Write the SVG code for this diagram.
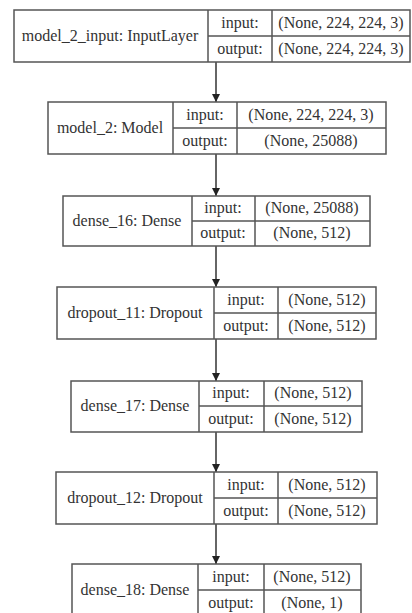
<svg xmlns="http://www.w3.org/2000/svg" width="412" height="613" viewBox="0 0 412 613">
<defs>
<style>
rect.b{fill:#fff;stroke:#555;stroke-width:1.5}
line.d{stroke:#555;stroke-width:1.5}
text{font-size:16px;fill:#333;text-anchor:middle}
.e line{stroke:#333;stroke-width:1.5}
</style>
<marker id="ah" viewBox="0 0 8 10" refX="8" refY="5" markerWidth="8" markerHeight="10" markerUnits="userSpaceOnUse" orient="auto">
<path d="M0,1 L8,5 L0,9 z" fill="#222"/>
</marker>
</defs>
<rect width="412" height="613" fill="#fff"/>
<g class="e" id="connectors">
<line x1="216" y1="62" x2="216" y2="102" marker-end="url(#ah)"/>
<line x1="216" y1="154" x2="216" y2="196" marker-end="url(#ah)"/>
<line x1="216" y1="246" x2="216" y2="287" marker-end="url(#ah)"/>
<line x1="216" y1="339" x2="216" y2="381" marker-end="url(#ah)"/>
<line x1="216" y1="432" x2="216" y2="472" marker-end="url(#ah)"/>
<line x1="216" y1="524" x2="216" y2="564" marker-end="url(#ah)"/>
</g>
<g font-family="'Liberation Serif', 'DejaVu Serif', serif">
<g id="node1">
<rect class="b" x="14" y="10" width="396" height="52"/>
<line class="d" x1="208" y1="10" x2="208" y2="62"/><line class="d" x1="272" y1="10" x2="272" y2="62"/><line class="d" x1="208" y1="36" x2="410" y2="36"/>
<text x="110" y="41">model_2_input: InputLayer</text>
<text x="240" y="28">input:</text><text x="240" y="54">output:</text>
<text x="341" y="28">(None, 224, 224, 3)</text><text x="341" y="54">(None, 224, 224, 3)</text>
</g>
<g id="node2">
<rect class="b" x="48" y="102" width="338" height="52"/>
<line class="d" x1="173" y1="102" x2="173" y2="154"/><line class="d" x1="237" y1="102" x2="237" y2="154"/><line class="d" x1="173" y1="128" x2="386" y2="128"/>
<text x="110" y="133">model_2: Model</text>
<text x="205" y="120">input:</text><text x="205" y="146">output:</text>
<text x="311" y="120">(None, 224, 224, 3)</text><text x="311" y="146">(None, 25088)</text>
</g>
<g id="node3">
<rect class="b" x="63" y="196" width="307" height="50"/>
<line class="d" x1="192" y1="196" x2="192" y2="246"/><line class="d" x1="255" y1="196" x2="255" y2="246"/><line class="d" x1="192" y1="221" x2="370" y2="221"/>
<text x="127" y="226">dense_16: Dense</text>
<text x="223" y="213">input:</text><text x="223" y="238">output:</text>
<text x="312" y="213">(None, 25088)</text><text x="312" y="238">(None, 512)</text>
</g>
<g id="node4">
<rect class="b" x="57" y="287" width="319" height="52"/>
<line class="d" x1="214" y1="287" x2="214" y2="339"/><line class="d" x1="278" y1="287" x2="278" y2="339"/><line class="d" x1="214" y1="313" x2="376" y2="313"/>
<text x="135" y="318">dropout_11: Dropout</text>
<text x="246" y="305">input:</text><text x="246" y="331">output:</text>
<text x="327" y="305">(None, 512)</text><text x="327" y="331">(None, 512)</text>
</g>
<g id="node5">
<rect class="b" x="71" y="381" width="291" height="51"/>
<line class="d" x1="199" y1="381" x2="199" y2="432"/><line class="d" x1="264" y1="381" x2="264" y2="432"/><line class="d" x1="199" y1="406" x2="362" y2="406"/>
<text x="135" y="411">dense_17: Dense</text>
<text x="231" y="398">input:</text><text x="231" y="424">output:</text>
<text x="313" y="398">(None, 512)</text><text x="313" y="424">(None, 512)</text>
</g>
<g id="node6">
<rect class="b" x="56" y="472" width="321" height="52"/>
<line class="d" x1="214" y1="472" x2="214" y2="524"/><line class="d" x1="278" y1="472" x2="278" y2="524"/><line class="d" x1="214" y1="498" x2="377" y2="498"/>
<text x="135" y="503">dropout_12: Dropout</text>
<text x="246" y="490">input:</text><text x="246" y="516">output:</text>
<text x="327" y="490">(None, 512)</text><text x="327" y="516">(None, 512)</text>
</g>
<g id="node7">
<rect class="b" x="72" y="564" width="289" height="56"/>
<line class="d" x1="198" y1="564" x2="198" y2="620"/><line class="d" x1="264" y1="564" x2="264" y2="620"/><line class="d" x1="198" y1="590" x2="361" y2="590"/>
<text x="135" y="595">dense_18: Dense</text>
<text x="231" y="582">input:</text><text x="231" y="608">output:</text>
<text x="312" y="582">(None, 512)</text><text x="312" y="608">(None, 1)</text>
</g>
</g>
</svg>
